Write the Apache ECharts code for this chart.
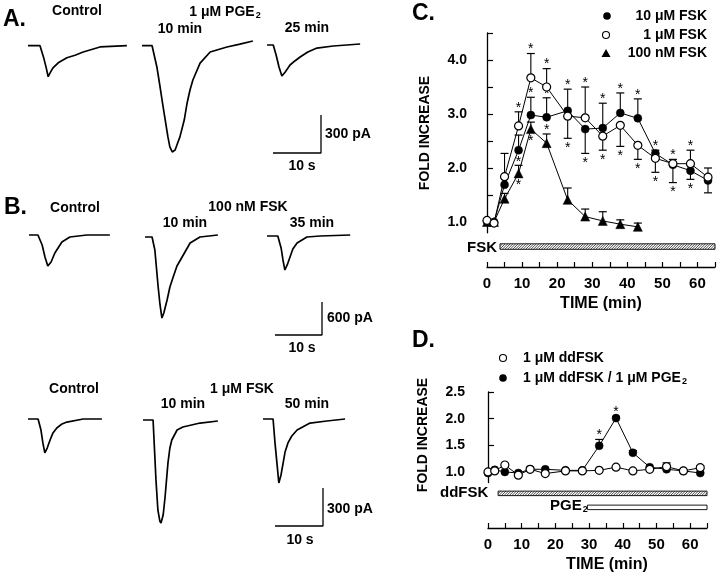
<!DOCTYPE html>
<html><head><meta charset="utf-8">
<script src="https://cdn.jsdelivr.net/npm/echarts@6/dist/echarts.min.js"></script>
<style>html,body{margin:0;padding:0;background:#fff}#c{width:720px;height:578px}</style>
</head><body><div id="c"></div>
<script>
// ================= DATA =================
// Panel C (fold increase vs time, min)
const timeC = [0,2,5,9,12.5,17,23,28,33,38,43,48,53,58,63];
const fsk10uM     = [1.02,1.00,1.69,2.33,2.98,2.94,3.06,2.72,2.74,3.02,2.92,2.27,2.06,1.95,1.77];
const fsk10uMErr  = [0,0,0,0.28,0.33,0.36,0.40,-0.45,0.46,0.37,0.36,0.06,0.10,-0.16,-0.23];
const fsk10uMStar = [0,0,0,-1,1,1,1,-1,1,1,1,1,1,-1,0];
const fsk1uM      = [1.03,0.98,1.84,2.78,3.67,3.50,2.96,2.93,2.59,2.79,2.42,2.18,2.08,2.08,1.83];
const fsk1uMErr   = [0,0,0.43,0.26,0.45,0.34,-0.41,0.57,-0.26,-0.39,-0.26,-0.26,-0.35,0.25,0.17];
const fsk1uMStar  = [0,0,0,1,1,1,-1,1,-1,-1,-1,-1,-1,1,0];
const timeC100 = [0,2,5,9,12.5,17,23,28,33,38,43];
const fsk100nM     = [1.00,1.00,1.43,1.90,2.72,2.46,1.41,1.10,1.02,0.96,0.91];
const fsk100nMErr  = [0,0,0.10,0.15,0.13,0.17,0.22,0.14,0.17,0.08,0.07];
const fsk100nMStar = [0,0,0,-1,-1,1,0,0,0,0,0];
const fskBar = [3.7, 65];

// Panel D
const timeD = [0,2,5,9,12.5,17,23,28,33,38,43,48,53,58,63];
const ddFSK       = [1.00,1.02,1.13,0.94,1.05,0.97,1.02,1.02,1.03,1.09,1.02,1.05,1.10,1.02,1.08];
const ddFSKErr    = [0,0,0,0,0.04,0,0,0,0,0,0,0,0.07,0,0.04];
const ddFSKStar   = [0,0,0,0,0,0,0,0,0,0,0,0,0,0,0];
const ddFSKPGE    = [0.98,1.04,1.00,0.98,1.05,1.05,1.03,1.03,1.49,2.01,1.36,1.09,1.05,1.02,0.98];
const ddFSKPGEErr = [0,0,0,0,0,0,0,0,0.12,0.03,0.04,0,0,0,0];
const ddFSKPGEStar= [0,0,0,0,0,0,0,0,1,1,0,0,0,0,0];
const ddfskBar = [3, 65];
const pge2Bar = [29.5, 65];

// Axis ticks
const ticksC = [1,1.5,2,2.5,3,3.5,4,4.5];
const labelsC = [1,2,3,4];
const ticksD = [1,1.5,2,2.5];
const labelsD = [1,1.5,2,2.5];

// Current traces (time s, current pA relative to baseline)
const tA0=[0,2.5,3.3,3.8,4.2,4.6,5.2,6.3,8.1,9.8,11.5,15,20.6];
const iA0=[0,0,-100,-175,-245,-215,-175,-135,-95,-75,-50,-10,0];
const tA1=[0,2.1,3.1,3.8,4.4,5.0,5.4,5.8,6.3,6.9,7.5,7.9,8.8,9.4,10.0,10.6,12.1,14.2,16.3,17.7,20.4,23.1];
const iA1=[0,0,-168,-334,-483,-625,-720,-799,-839,-823,-760,-720,-587,-452,-350,-271,-137,-50,-26,-10,13,37];
const tA2=[0,1.3,1.9,2.5,3.1,3.8,4.8,5.8,6.9,8.5,10.4,13.8,19.4];
const iA2=[0,0,-79,-174,-245,-213,-158,-126,-95,-55,-24,-8,8];
const tB0=[0,1.9,2.8,3.4,4.0,4.7,5.5,7.0,8.7,12.3,17.2];
const iB0=[0,0,-182,-400,-564,-491,-327,-127,-36,0,0];
const tB1=[0,1.5,2.1,2.8,3.2,3.6,4.0,4.7,5.3,6.0,6.8,7.9,9.6,11.7,15.5];
const iB1=[0,0,-236,-909,-1236,-1473,-1382,-1145,-909,-727,-527,-364,-109,0,36];
const tB2=[0,2.3,3.0,3.4,3.8,4.3,4.9,5.5,6.4,8.5,11.3,17.7];
const iB2=[0,0,-218,-436,-618,-527,-382,-236,-127,-18,0,18];
const tC0=[0,2.1,2.7,3.1,3.5,4.0,4.6,5.2,6.0,7.1,8.1,11.5,15.4];
const iC0=[0,0,-87,-189,-268,-229,-166,-110,-71,-39,-24,0,0];
const tC1=[0,2.1,2.3,2.7,3.1,3.5,3.75,4.2,4.6,5.2,5.6,6.0,7.1,8.3,11.9,15.6];
const iC1=[0,0,-158,-473,-710,-797,-813,-750,-608,-339,-221,-158,-79,-55,-24,-8];
const tC2=[0,2.1,2.5,2.9,3.3,3.75,4.2,4.6,5.2,6.0,7.1,9.8,13.3,17.1];
const iC2=[0,0,-189,-347,-505,-442,-347,-260,-189,-134,-87,-32,-16,0];
const scaleSec = 10;
const scaleAmpA = 300, scaleAmpB = 600, scaleAmpC = 300;

// ================= BUILD =================
const F = "'Liberation Sans', Arial, Helvetica, sans-serif";
const grids=[], xAxes=[], yAxes=[], series=[];

function addTrace(t, cur, x0, yBase, pxPerS, pAPerPx){
  const g = grids.length;
  const tMax = Math.max(...t), iMin = Math.min(...cur), iMax = Math.max(0, ...cur);
  grids.push({left:x0, top:yBase - iMax/pAPerPx, width:tMax*pxPerS, height:(iMax-iMin)/pAPerPx});
  xAxes.push({gridIndex:g, type:'value', min:0, max:tMax, show:false});
  yAxes.push({gridIndex:g, type:'value', min:iMin, max:iMax, show:false});
  series.push({type:'line', xAxisIndex:g, yAxisIndex:g, data:t.map((v,k)=>[v,cur[k]]),
    symbol:'none', lineStyle:{color:'#000', width:1.7}, clip:false, silent:true});
}
function addScaleBar(secs, amp, xLeft, yBottom, pxPerS, pAPerPx){
  const g = grids.length;
  grids.push({left:xLeft, top:yBottom - amp/pAPerPx, width:secs*pxPerS, height:amp/pAPerPx});
  xAxes.push({gridIndex:g, type:'value', min:0, max:secs, show:false});
  yAxes.push({gridIndex:g, type:'value', min:0, max:amp, show:false});
  series.push({type:'line', xAxisIndex:g, yAxisIndex:g, data:[[0,0],[secs,0],[secs,amp]],
    symbol:'none', lineStyle:{color:'#000', width:1.3}, clip:false, silent:true});
}
const pxA=4.8, kA=300/38, pxB=4.7, kB=600/33, pxC=4.8, kC=300/38;
addTrace(tA0,iA0,28,45.7,pxA,kA);
addTrace(tA1,iA1,142,45.7,pxA,kA);
addTrace(tA2,iA2,267,45,pxA,kA);
addTrace(tB0,iB0,29,235,pxB,kB);
addTrace(tB1,iB1,145,237,pxB,kB);
addTrace(tB2,iB2,267,236,pxB,kB);
addTrace(tC0,iC0,28,419,pxC,kC);
addTrace(tC1,iC1,143,420,pxC,kC);
addTrace(tC2,iC2,263,419,pxC,kC);
addScaleBar(scaleSec, scaleAmpA, 273, 153, pxA, kA);
addScaleBar(scaleSec, scaleAmpB, 275, 335, pxB, kB);
addScaleBar(scaleSec, scaleAmpC, 275, 526, pxC, kC);

function setAlign(style, a, v){ style.align=a; style.textAlign=a; style.verticalAlign=v; style.textVerticalAlign=v; return style; }

function errItem(params, api){
  const t=api.value(0), v=api.value(1), e=api.value(2), s=api.value(3);
  const p=api.coord([t,v]); const ch=[];
  let endY=p[1];
  if (e!==0){
    const q=api.coord([t,v+e]); endY=q[1];
    ch.push({type:'line', shape:{x1:p[0],y1:p[1],x2:q[0],y2:q[1]}, style:{stroke:'#000',lineWidth:1.1}});
    ch.push({type:'line', shape:{x1:q[0]-4,y1:q[1],x2:q[0]+4,y2:q[1]}, style:{stroke:'#000',lineWidth:1.2}});
  }
  if (s!==0){
    let y = (e!==0 && Math.sign(e)===s) ? endY - s*7 : p[1] - s*9;
    ch.push({type:'text', x:p[0], y:y+3, style:setAlign({text:'*', font:'14px '+F, fill:'#000'},'center','middle')});
  }
  return {type:'group', children:ch};
}
function hatchItem(offsetPx, h, hatched){
  return function(params, api){
    const cs=params.coordSys; const yb=cs.y+cs.height+offsetPx;
    const x0=api.coord([api.value(0),1])[0], x1=api.coord([api.value(1),1])[0];
    const ch=[{type:'rect', shape:{x:x0,y:yb,width:x1-x0,height:h}, style:{fill:'#fff',stroke:'#000',lineWidth:0.9}}];
    if (hatched){
      for (let x=x0-h; x<x1; x+=2.6){
        let xa=x, ya=yb+h, xbb=x+h, ybb=yb;
        if (xa<x0){ ya-=(x0-xa); xa=x0; }
        if (xbb>x1){ ybb+=(xbb-x1); xbb=x1; }
        if (xbb>xa) ch.push({type:'line', shape:{x1:xa,y1:ya,x2:xbb,y2:ybb}, style:{stroke:'#000',lineWidth:0.7}});
      }
    }
    return {type:'group', children:ch};
  };
}

function addPanel(left, top, width, yMin, yMax, pxPerUnit, yOffset, xOffset, ticks, labels, labelMargin){
  const g=grids.length;
  grids.push({left:left, top:top, width:width, height:(yMax-yMin)*pxPerUnit});
  xAxes.push({gridIndex:g, type:'value', min:0, max:65, interval:5, offset:xOffset,
    axisLine:{lineStyle:{color:'#000',width:1.3}},
    axisTick:{inside:true,length:5,lineStyle:{color:'#000',width:1.2}},
    splitLine:{show:false},
    axisLabel:{margin:9, color:'#000', fontFamily:F, fontWeight:'bold', fontSize:15,
      formatter:v=>(v%10===0 && v<=60)?String(v):''}});
  yAxes.push({gridIndex:g, type:'value', min:yMin, max:yMax, offset:yOffset,
    axisLine:{show:true,lineStyle:{color:'#000',width:1.3}},
    axisTick:{show:true,inside:true,length:6,customValues:ticks,lineStyle:{color:'#000',width:1.2}},
    splitLine:{show:false},
    axisLabel:{customValues:labels, margin:labelMargin, color:'#000', fontFamily:F, fontWeight:'bold', fontSize:14,
      formatter:v=>Number(v).toFixed(1)}});
  return g;
}
function addData(g, t, v, err, star, kind){
  series.push({type:'custom', xAxisIndex:g, yAxisIndex:g, renderItem:errItem, clip:false, z:2,
    data:t.map((x,k)=>[x,v[k],err[k],star[k]]), encode:{x:0,y:1}, silent:true});
  const sym = kind==='tri' ? 'triangle' : 'circle';
  const item = kind==='open' ? {color:'#fff', borderColor:'#000', borderWidth:1.2} : {color:'#000', borderColor:'#000', borderWidth:0.5};
  series.push({type:'line', xAxisIndex:g, yAxisIndex:g, data:t.map((x,k)=>[x,v[k]]), symbol:sym,
    symbolSize: kind==='tri'?9:8, showAllSymbol:true, itemStyle:item, lineStyle:{color:'#000',width:1}, clip:false, z:3, silent:true});
}

const gC = addPanel(487, 33, 228, 0.8, 4.5, 54, 15, 34.2, ticksC, labelsC, 5);
addData(gC, timeC100, fsk100nM, fsk100nMErr, fsk100nMStar, 'tri');
addData(gC, timeC, fsk10uM, fsk10uMErr, fsk10uMStar, 'fill');
addData(gC, timeC, fsk1uM, fsk1uMErr, fsk1uMStar, 'open');
series.push({type:'custom', xAxisIndex:gC, yAxisIndex:gC, renderItem:hatchItem(11,5.5,true), clip:false, data:[fskBar], encode:{x:[0,1]}, silent:true});

const gD = addPanel(488, 392, 219, 0.8, 2.5, 53.3, 14, 45.4, ticksD, labelsD, 9);
addData(gD, timeD, ddFSKPGE, ddFSKPGEErr, ddFSKPGEStar, 'fill');
addData(gD, timeD, ddFSK, ddFSKErr, ddFSKStar, 'open');
series.push({type:'custom', xAxisIndex:gD, yAxisIndex:gD, renderItem:hatchItem(8.5,4.5,true), clip:false, data:[ddfskBar], encode:{x:[0,1]}, silent:true});
series.push({type:'custom', xAxisIndex:gD, yAxisIndex:gD, renderItem:hatchItem(22.5,4.5,false), clip:false, data:[pge2Bar], encode:{x:[0,1]}, silent:true});

// ---------- text ----------
function txt(text, x, y, size, align, opts){
  opts=opts||{};
  const st=setAlign({text:text, font:(opts.weight||'bold')+' '+size+'px '+F, fill:'#000'}, align||'center', 'middle');
  if (opts.rich) st.rich=opts.rich;
  const el={type:'text', x:x, y:y, style:st, z:10, silent:true};
  if (opts.rotation) el.rotation=opts.rotation;
  return el;
}
const sub = {s:{font:'bold 9px '+F, fill:'#000', padding:[8,0,0,1]}};
const graphics=[
  txt('A.',3,20,23,'left'),
  txt('Control',77,11,14), txt('1 \u03bcM PGE{s|2}',225,12,14,'center',{rich:sub}),
  txt('10 min',180,29,14), txt('25 min',307,28,14),
  txt('300 pA',325,134,14,'left'), txt('10 s',302,166,14),
  txt('B.',4,208,23,'left'),
  txt('Control',75,208,14), txt('100 nM FSK',248,207,14),
  txt('10 min',185,223,14), txt('35 min',312,223,14),
  txt('600 pA',327,318,14,'left'), txt('10 s',302,348,14),
  txt('Control',74,389,14), txt('1 \u03bcM FSK',242,389,14),
  txt('10 min',183,404,14), txt('50 min',307,404,14),
  txt('300 pA',327,509,14,'left'), txt('10 s',300,540,14),
  txt('C.',412,14,23,'left'),
  txt('D.',412,341,23,'left'),
  txt('FOLD INCREASE',425,133,14,'center',{rotation:Math.PI/2}),
  txt('FOLD INCREASE',423,435,14,'center',{rotation:Math.PI/2}),
  txt('TIME (min)',601,304,16), txt('TIME (min)',607,565,16),
  txt('FSK',467,248,15,'left'),
  txt('ddFSK',440,493,15,'left'),
  txt('PGE{s|2}',550,506,15,'left',{rich:sub}),
  txt('10 \u03bcM FSK',707,16,14,'right'),
  txt('1 \u03bcM FSK',707,35,14,'right'),
  txt('100 nM FSK',707,53,14,'right'),
  txt('1 \u03bcM ddFSK',523,358,14,'left'),
  txt('1 \u03bcM ddFSK / 1 \u03bcM PGE{s|2}',523,378,14,'left',{rich:sub}),
  {type:'circle', shape:{cx:607,cy:16,r:3.8}, style:{fill:'#000'}},
  {type:'circle', shape:{cx:606,cy:35,r:3.5}, style:{fill:'#fff',stroke:'#000',lineWidth:1.1}},
  {type:'polygon', shape:{points:[[606,49],[610.5,57],[601.5,57]]}, style:{fill:'#000'}},
  {type:'circle', shape:{cx:503,cy:358,r:3.5}, style:{fill:'#fff',stroke:'#000',lineWidth:1.1}},
  {type:'circle', shape:{cx:503,cy:378,r:3.8}, style:{fill:'#000'}}
];

const chart = echarts.init(document.getElementById('c'), null, {renderer:'canvas'});
chart.setOption({
  backgroundColor:'#fff', animation:false,
  grid:grids, xAxis:xAxes, yAxis:yAxes, series:series, graphic:graphics
});
</script></body></html>
